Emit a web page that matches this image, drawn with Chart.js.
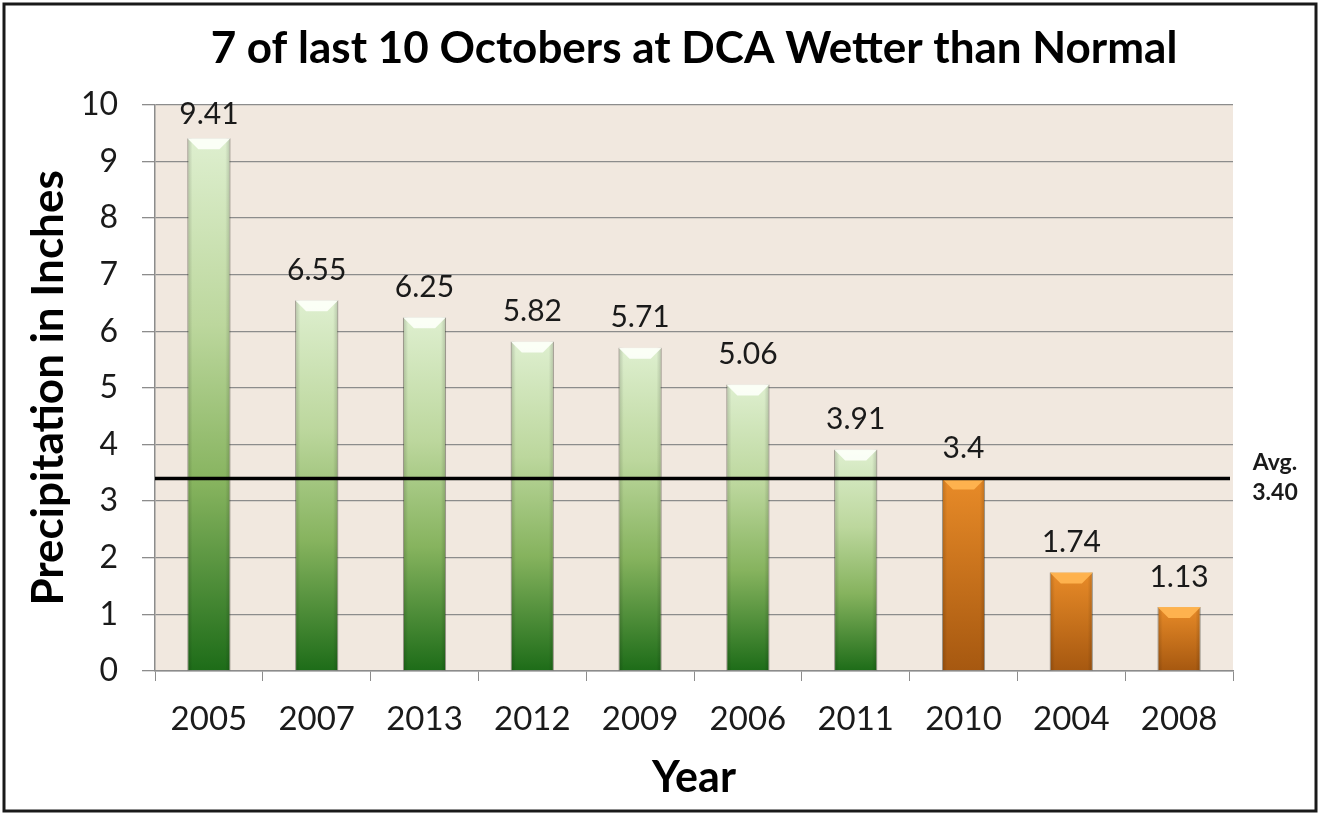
<!DOCTYPE html>
<html>
<head>
<meta charset="utf-8">
<script src="https://cdn.jsdelivr.net/npm/chart.js@4.4.1/dist/chart.umd.min.js"></script>
<style>
  html, body { margin: 0; padding: 0; background: #fff; }
  canvas { display: block; }
</style>
</head>
<body>
<canvas id="chart" width="1320" height="814"></canvas>
<script>
// data
const years = ["2005", "2007", "2013", "2012", "2009", "2006", "2011", "2010", "2004", "2008"];
const precip = [9.41, 6.55, 6.25, 5.82, 5.71, 5.06, 3.91, 3.4, 1.74, 1.13];
const avgPrecip = 3.40;
const yMin = 0;
const yMax = 10;
const yStep = 1;

const fontFam = 'Lato, "Open Sans", sans-serif';
const gridColor = "#8c8c8c";
const textColor = "#1a1a1a";

function barFill(c) {
  const chart = c.chart;
  if (!chart.chartArea || c.raw == null) return "#7fae58";
  const y = chart.scales.y;
  const top = y.getPixelForValue(c.raw);
  const bot = y.getPixelForValue(0);
  const g = chart.ctx.createLinearGradient(0, top, 0, bot);
  if (c.raw > avgPrecip) {
    g.addColorStop(0, "#deefcf");
    g.addColorStop(0.35, "#bcd79d");
    g.addColorStop(0.65, "#86b35e");
    g.addColorStop(1, "#1d6c18");
  } else {
    g.addColorStop(0, "#e88b28");
    g.addColorStop(1, "#a65810");
  }
  return g;
}

// white page, frame and beige plot area
const backdrop = {
  id: "backdrop",
  beforeDraw(chart) {
    const { ctx, chartArea: a } = chart;
    ctx.save();
    ctx.fillStyle = "#fff";
    ctx.fillRect(0, 0, chart.width, chart.height);
    ctx.fillStyle = "#f1e8df";
    ctx.fillRect(a.left, a.top, a.right - a.left, a.bottom - a.top);
    ctx.restore();
  },
  afterDraw(chart) {
    const ctx = chart.ctx;
    ctx.save();
    ctx.strokeStyle = "#1a1a1a";
    ctx.lineWidth = 3;
    ctx.strokeRect(4, 4, chart.width - 8, chart.height - 7);
    ctx.restore();
  }
};

// bevel on the bars, value labels, average line
const extras = {
  id: "extras",
  afterDatasetsDraw(chart) {
    const { ctx, chartArea: a, scales } = chart;
    const meta = chart.getDatasetMeta(0);
    ctx.save();
    meta.data.forEach((bar, i) => {
      const p = bar.getProps(["x", "y", "base", "width"], true);
      const l = p.x - p.width / 2, r = p.x + p.width / 2;
      const green = precip[i] > avgPrecip;

      // darker sides
      let sg = ctx.createLinearGradient(l, 0, r, 0);
      sg.addColorStop(0, "rgba(0,0,0,0.18)");
      sg.addColorStop(0.12, "rgba(0,0,0,0)");
      sg.addColorStop(0.88, "rgba(0,0,0,0)");
      sg.addColorStop(1, "rgba(0,0,0,0.18)");
      ctx.fillStyle = sg;
      ctx.fillRect(l, p.y, r - l, p.base - p.y);

      // top bevel
      const b = 11;
      ctx.beginPath();
      ctx.moveTo(l, p.y);
      ctx.lineTo(r, p.y);
      ctx.lineTo(r - b, p.y + b);
      ctx.lineTo(l + b, p.y + b);
      ctx.closePath();
      ctx.fillStyle = green ? "rgba(252,255,248,0.95)" : "rgba(255,180,80,0.95)";
      ctx.fill();

      // value label
      ctx.fillStyle = textColor;
      ctx.font = "30px " + fontFam;
      ctx.textAlign = "center";
      ctx.textBaseline = "middle";
      const ly = Math.max(p.y - 30, a.top + 10);
      ctx.fillText(String(precip[i]), p.x, ly);
    });

    // average line
    const ay = scales.y.getPixelForValue(avgPrecip);
    ctx.strokeStyle = "#000";
    ctx.lineWidth = 3.5;
    ctx.beginPath();
    ctx.moveTo(a.left, ay);
    ctx.lineTo(a.right - 3, ay);
    ctx.stroke();

    ctx.fillStyle = textColor;
    ctx.font = "bold 23px " + fontFam;
    ctx.textAlign = "center";
    ctx.textBaseline = "middle";
    ctx.fillText("Avg.", a.right + 42, ay - 16);
    ctx.fillText(avgPrecip.toFixed(2), a.right + 42, ay + 14);
    ctx.restore();
  }
};

new Chart(document.getElementById("chart"), {
  type: "bar",
  data: {
    labels: years,
    datasets: [{
      data: precip,
      backgroundColor: barFill,
      borderColor: "rgba(70,70,50,0.35)",
      borderWidth: 1,
      barPercentage: 0.4,
      categoryPercentage: 1
    }]
  },
  options: {
    responsive: false,
    animation: false,
    layout: { padding: { left: 10, right: 87, top: 10, bottom: 10 } },
    plugins: {
      legend: { display: false },
      tooltip: { enabled: false },
      title: {
        display: true,
        text: "7 of last 10 Octobers at DCA Wetter than Normal",
        fullSize: false,
        color: "#000",
        font: { family: fontFam, size: 44, weight: "bold", lineHeight: 1.2 },
        padding: { top: 12, bottom: 30 }
      }
    },
    scales: {
      x: {
        grid: { display: true, drawOnChartArea: false, drawTicks: true, tickLength: 10, color: gridColor, offset: true },
        border: { color: gridColor, width: 1.5 },
        ticks: { color: textColor, font: { family: fontFam, size: 33 }, padding: 19 },
        title: {
          display: true,
          text: "Year",
          color: "#000",
          font: { family: fontFam, size: 43, weight: "bold", lineHeight: 1.2 },
          padding: { top: 0, bottom: 0 }
        },
        afterFit(s) { s.height = 133; }
      },
      y: {
        min: yMin,
        max: yMax,
        grid: { color: gridColor, lineWidth: 1.3, tickLength: 13 },
        border: { color: gridColor, width: 1.5 },
        ticks: { stepSize: yStep, color: textColor, font: { family: fontFam, size: 32 }, padding: 24 },
        title: {
          display: true,
          text: "Precipitation in Inches",
          color: "#000",
          font: { family: fontFam, size: 44, weight: "bold", lineHeight: 1.2 },
          padding: { top: 12, bottom: 0 }
        },
        afterFit(s) { s.width = 145; }
      }
    }
  },
  plugins: [backdrop, extras]
});
</script>
</body>
</html>
